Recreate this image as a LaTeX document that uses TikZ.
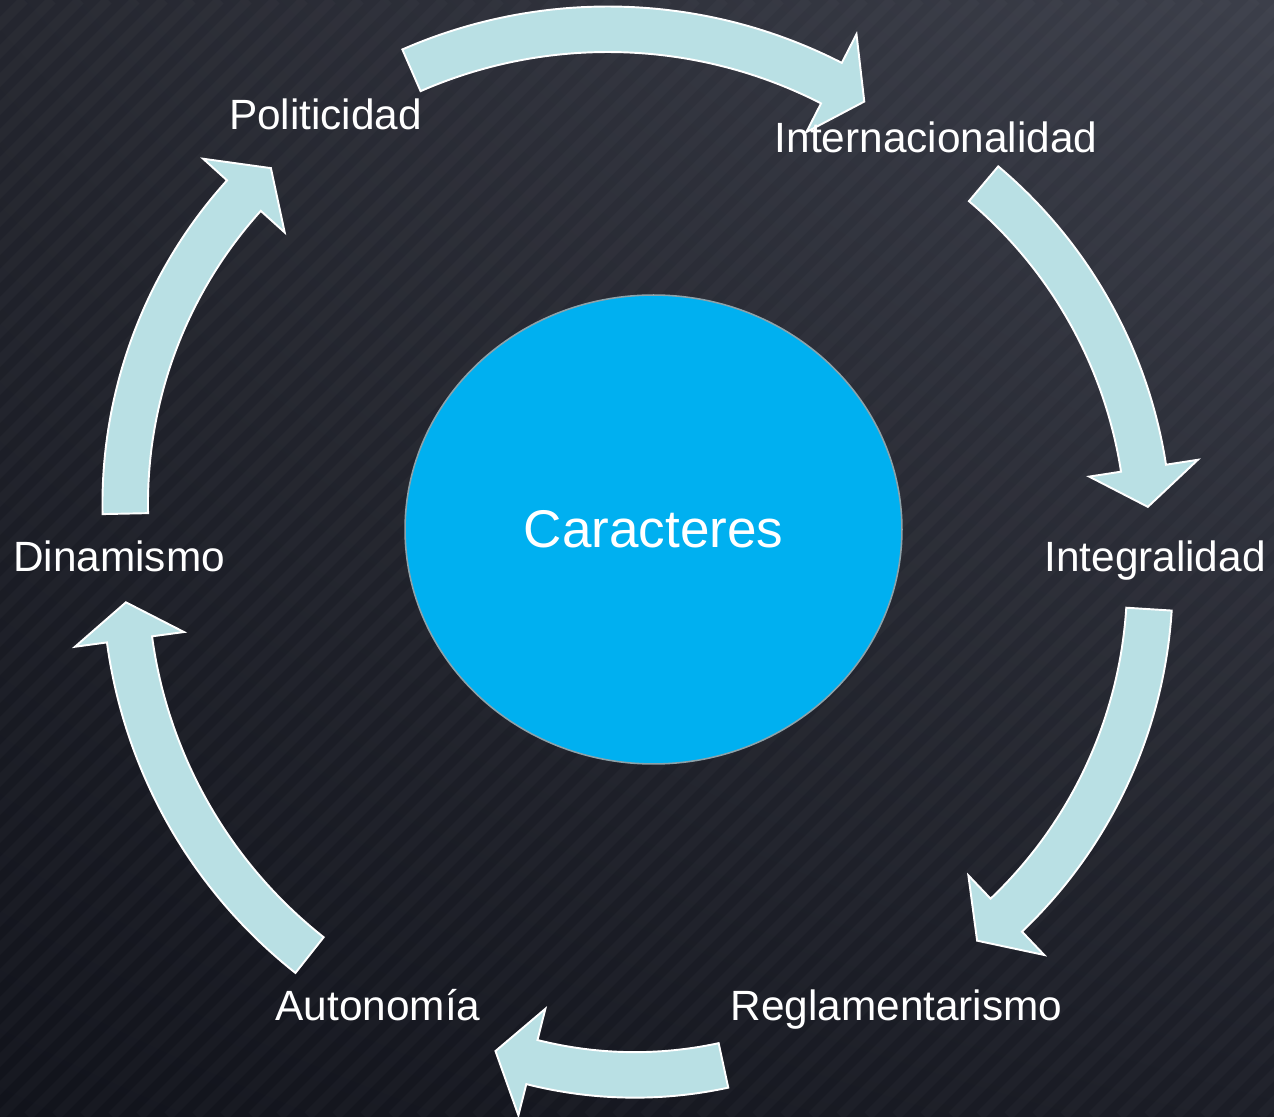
\documentclass[tikz,border=0pt]{standalone}
\usepackage{fontspec}
\setmainfont{Liberation Sans}
\usepackage{tikz}
\usetikzlibrary{shapes.geometric}
\usetikzlibrary{shadings}
\definecolor{bandblue}{RGB}{185,224,228}
\definecolor{discblue}{RGB}{0,176,240}
\definecolor{discrim}{RGB}{140,162,170}
\definecolor{bgul}{RGB}{36,38,47}
\definecolor{bgur}{RGB}{60,63,74}
\definecolor{bgll}{RGB}{17,19,27}
\definecolor{bglr}{RGB}{27,29,38}

\begin{document}
\begin{tikzpicture}[x=0.02cm, y=0.02cm,
  band/.style={fill=bandblue, draw=white, line width=1.1pt, line join=miter},
  lbl/.style={text=white, font=\fontsize{24.1}{28}\selectfont, anchor=base, inner sep=0pt}]
\useasboundingbox (0,0) rectangle (1274,1116);
\shade [upper left=bgul, upper right=bgur, lower left=bgll, lower right=bglr] (0,0) rectangle (1274,1116);
% faint diagonal stripes
\begin{scope}
\clip (0,0) rectangle (1274,1116);
\foreach \i in {-1120,-1092,...,1274}
  \draw [white, draw opacity=0.025, line width=0.2cm] (\i,0) -- ++(1116,1116);
\end{scope}
% curved arrows, clockwise
\filldraw [band, shift={(607.9,596.05)}] (113.6:513.45) arc[start angle=113.6, end angle=62.9, radius=513.45] -- (62.9:545.7) -- (58.5:490.7) -- (62.9:435.7) -- (62.9:467.95) arc[start angle=62.9, end angle=113.6, radius=467.95] -- cycle;
\filldraw [band, shift={(684.2,576.7)}] (49.9:487.55) arc[start angle=49.9, end angle=8.8, radius=487.55] -- (8.8:519.8) -- (4.0:464.8) -- (8.8:409.8) -- (8.8:442.05) arc[start angle=8.8, end angle=49.9, radius=442.05] -- cycle;
\filldraw [band, shift={(687.2,535.9)}] (-3.6:485.45) arc[start angle=-3.6, end angle=-46.4, radius=485.45] -- (-46.4:517.7) -- (-51.2:462.7) -- (-46.4:407.7) -- (-46.4:439.95) arc[start angle=-46.4, end angle=-3.6, radius=439.95] -- cycle;
\filldraw [band, shift={(634.8,460.6)}] (-77.8:442.25) arc[start angle=-77.8, end angle=-104.2, radius=442.25] -- (-104.2:474.5) -- (-109.4:419.5) -- (-104.2:364.5) -- (-104.2:396.75) arc[start angle=-104.2, end angle=-77.8, radius=396.75] -- cycle;
\filldraw [band, shift={(610.2,541.6)}] (-128.3:507.85) arc[start angle=-128.3, end angle=-172.3, radius=507.85] -- (-172.3:540.1) -- (-176.7:485.1) -- (-172.3:430.1) -- (-172.3:462.35) arc[start angle=-172.3, end angle=-128.3, radius=462.35] -- cycle;
\filldraw [band, shift={(585.2,612)}] (181.2:482.75) arc[start angle=181.2, end angle=137.9, radius=482.75] -- (137.9:515) -- (133.1:460) -- (137.9:405) -- (137.9:437.25) arc[start angle=137.9, end angle=181.2, radius=437.25] -- cycle;
% centre and labels
\node (car) [ellipse, draw=discrim, line width=0.9pt, fill=discblue, minimum width=9.94cm, minimum height=9.38cm, inner sep=0pt, text=white, font=\fontsize{30.2}{36}\selectfont] at (653.5,586.5) {Caracteres};
\node (pol) [lbl] at (325.5,986) {Politicidad};
\node (int) [lbl] at (936,963) {Internacionalidad};
\node (ite) [lbl] at (1155,544) {Integralidad};
\node (reg) [lbl] at (896.5,96) {Reglamentarismo};
\node (aut) [lbl] at (378,96) {Autonomía};
\node (din) [lbl] at (119,544) {Dinamismo};
\end{tikzpicture}
\end{document}
